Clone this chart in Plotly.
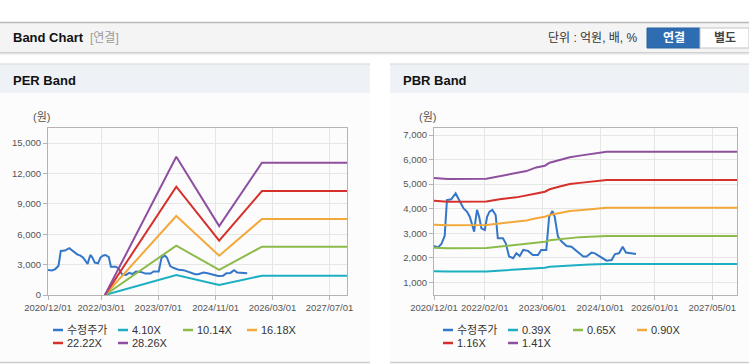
import plotly.graph_objects as go

W, H = 749, 364

# ---------------- data ----------------
price_dates = ["2020-12-01", "2021-01-04", "2021-02-01", "2021-03-01", "2021-03-20", "2021-04-25",
               "2021-06-01", "2021-07-04", "2021-08-07", "2021-09-04", "2021-09-28", "2021-10-19",
               "2021-11-04", "2021-11-16", "2021-11-28", "2021-12-16", "2022-01-04", "2022-02-01",
               "2022-02-21", "2022-03-13", "2022-04-06", "2022-05-04", "2022-05-22", "2022-07-04",
               "2022-07-28", "2022-08-25", "2022-09-28", "2022-10-25", "2022-11-22", "2022-12-22",
               "2023-02-01", "2023-03-13", "2023-04-25", "2023-05-22", "2023-07-04", "2023-07-28",
               "2023-08-25", "2023-09-13", "2023-10-10", "2023-11-10", "2023-12-22", "2024-02-01",
               "2024-03-13", "2024-05-10", "2024-06-07", "2024-07-19", "2024-08-16", "2024-09-28",
               "2024-11-22", "2025-01-04", "2025-02-01", "2025-03-07", "2025-04-07", "2025-05-04",
               "2025-06-22", "2025-07-28"]
price_values = [2480, 2420, 2560, 2890, 4350, 4380,
                4620, 4290, 4010, 3880, 3670, 3330,
                3060, 3540, 3950, 3670, 3200, 3130,
                3670, 3880, 3950, 3740, 2790, 2790,
                2590, 2050, 1980, 2180, 2070, 2320,
                2280, 2110, 2110, 2320, 2320, 3670,
                3900, 3670, 2860, 2660, 2480, 2450,
                2280, 2050, 2050, 2210, 2180, 2050,
                1880, 1910, 2150, 2180, 2450, 2210,
                2180, 2150]

# PER band
per_dates = ["2022-04-01", "2023-12-01", "2024-12-01", "2025-12-01", "2027-11-27"]
per_4_10 = [0, 1970, 990, 1910, 1910]
per_10_14 = [0, 4870, 2470, 4770, 4770]
per_16_18 = [0, 7800, 3880, 7500, 7500]
per_22_22 = [0, 10690, 5360, 10260, 10260]
per_28_26 = [0, 13650, 6800, 13060, 13060]
per_names = ["4.10X", "10.14X", "16.18X", "22.22X", "28.26X"]
per_ticks = ["2020-12-01", "2022-03-01", "2023-07-01", "2024-11-01", "2026-03-01", "2027-07-01"]
per_ticktext = ["2020/12/01", "2022/03/01", "2023/07/01", "2024/11/01", "2026/03/01", "2027/07/01"]

# PBR band
pbr_dates = ["2020-12-01", "2021-03-25", "2022-02-15", "2022-06-07", "2022-10-25", "2023-01-18",
             "2023-04-10", "2023-06-22", "2023-08-01", "2023-10-25", "2024-01-18", "2024-04-12",
             "2024-07-04", "2024-09-28", "2024-11-22", "2027-11-27"]
pbr_0_39 = [1450, 1440, 1445, 1480, 1510, 1535, 1565, 1595, 1630, 1665, 1695, 1710, 1725, 1740, 1745, 1745]
pbr_0_65 = [2410, 2390, 2400, 2460, 2510, 2550, 2600, 2650, 2710, 2760, 2820, 2840, 2860, 2880, 2890, 2890]
pbr_0_90 = [3340, 3320, 3330, 3400, 3470, 3520, 3610, 3670, 3740, 3820, 3900, 3940, 3970, 4010, 4040, 4040]
pbr_1_16 = [4320, 4285, 4290, 4380, 4460, 4530, 4620, 4690, 4790, 4900, 5000, 5050, 5100, 5140, 5170, 5170]
pbr_1_41 = [5250, 5210, 5220, 5330, 5440, 5530, 5680, 5750, 5870, 5980, 6090, 6160, 6210, 6280, 6320, 6320]
pbr_names = ["0.39X", "0.65X", "0.90X", "1.16X", "1.41X"]
pbr_ticks = ["2020-12-01", "2022-02-01", "2023-06-01", "2024-10-01", "2026-01-01", "2027-05-01"]
pbr_ticktext = ["2020/12/01", "2022/02/01", "2023/06/01", "2024/10/01", "2026/01/01", "2027/05/01"]

price_name = "수정주가"
band_colors = ["#1cafc2", "#8cbb4c", "#f3a93a", "#d5302b", "#8e4f9e"]
price_color = "#3476c8"

# ---------------- helpers ----------------
def X(p):
    return p / W

def Y(p):
    return 1 - p / H

FONT = "Liberation Sans, Noto Sans CJK KR, sans-serif"
TICKFONT = "Liberation Sans, Noto Sans CJK KR, sans-serif"

fig = go.Figure()

per_bands = [per_4_10, per_10_14, per_16_18, per_22_22, per_28_26]
pbr_bands = [pbr_0_39, pbr_0_65, pbr_0_90, pbr_1_16, pbr_1_41]

fig.add_trace(go.Scatter(x=price_dates, y=price_values, name=price_name, mode="lines",
                         line=dict(color=price_color, width=2), xaxis="x", yaxis="y"))
for vals, nm, c in zip(per_bands, per_names, band_colors):
    fig.add_trace(go.Scatter(x=per_dates, y=vals, name=nm, mode="lines",
                             line=dict(color=c, width=2), xaxis="x", yaxis="y"))

fig.add_trace(go.Scatter(x=price_dates, y=price_values, name=price_name, mode="lines",
                         line=dict(color=price_color, width=2), xaxis="x2", yaxis="y2"))
for vals, nm, c in zip(pbr_bands, pbr_names, band_colors):
    fig.add_trace(go.Scatter(x=pbr_dates, y=vals, name=nm, mode="lines",
                             line=dict(color=c, width=2), xaxis="x2", yaxis="y2"))

# ---------------- axes ----------------
ydom = [Y(295), Y(128)]
common_x = dict(type="date", showgrid=True, gridcolor="#e6e6e6", gridwidth=1, automargin=False,
                showline=True, linecolor="#b4b4b4", linewidth=1, mirror=True,
                ticks="outside", ticklen=4, tickcolor="#b4b4b4", tickangle=0,
                tickfont=dict(family=TICKFONT, size=9.5, color="#555555"), zeroline=False)
common_y = dict(showgrid=True, gridcolor="#e6e6e6", gridwidth=1, automargin=False,
                showline=True, linecolor="#b4b4b4", linewidth=1, mirror=True,
                ticks="outside", ticklen=4, tickcolor="#b4b4b4", tickformat=",",
                tickfont=dict(family=TICKFONT, size=9.5, color="#555555"), zeroline=False)

fig.update_layout(
    template="none",
    width=W, height=H, margin=dict(l=0, r=0, t=0, b=0, pad=0), autosize=False,
    paper_bgcolor="white", plot_bgcolor="rgba(0,0,0,0)", showlegend=False,
    xaxis=dict(common_x, domain=[X(48), X(347)], range=["2020-12-01", "2027-11-27"],
               tickvals=per_ticks, ticktext=per_ticktext, anchor="y"),
    yaxis=dict(common_y, domain=ydom, range=[0, 16480], dtick=3000, tick0=0, anchor="x"),
    xaxis2=dict(common_x, domain=[X(434), X(737)], range=["2020-12-01", "2027-11-25"],
                tickvals=pbr_ticks, ticktext=pbr_ticktext, anchor="y2"),
    yaxis2=dict(common_y, domain=ydom, range=[483, 7285], dtick=1000, tick0=0, anchor="x2"),
)

# ---------------- decorations ----------------
shapes = []
def rect(x0, y0, x1, y1, fill, line=None, lw=0):
    shapes.append(dict(type="rect", xref="paper", yref="paper", x0=X(x0), x1=X(x1), y0=Y(y1), y1=Y(y0),
                       fillcolor=fill, line=dict(color=line or fill, width=lw), layer="below"))

def hline(x0, x1, y, color, w=1):
    shapes.append(dict(type="line", xref="paper", yref="paper", x0=X(x0), x1=X(x1), y0=Y(y), y1=Y(y),
                       line=dict(color=color, width=w), layer="below"))

# page header band
rect(0, 22, 749, 52, "#f4f4f4")
hline(0, 749, 22.5, "#b9b9b9", 1.5)
hline(0, 749, 52.5, "#cfcfcf", 1)
hline(0, 749, 53.5, "#e4e4e4", 1)
hline(0, 749, 54.5, "#f1f1f1", 1)
# buttons
rect(647, 28, 700, 48, "#2f6db2", "#2a62a3", 1)
rect(700, 28, 749, 48, "#ffffff", "#c4c4c4", 1)

# panels
for (a, b) in [(0, 370), (390, 749)]:
    rect(a, 64, b, 93, "#eef2f7")
    rect(a, 93, b, 363, "#fcfcfc")
    hline(a, b, 64, "#d6d6d6", 1.2)
    hline(a, b, 362.5, "#cccccc", 1.5)

annotations = []

def legend_items(items, x_starts, y_rows):
    pos = [(x, y) for y, xs in zip(y_rows, x_starts) for x in xs]
    for (name, color), (lx, ly) in zip(items, pos):
        shapes.append(dict(type="line", xref="paper", yref="paper", x0=X(lx), x1=X(lx + 10),
                           y0=Y(ly), y1=Y(ly), line=dict(color=color, width=2.5)))
        annotations.append(dict(xref="paper", yref="paper", x=X(lx + 12), y=Y(ly), text=name,
                                showarrow=False, xanchor="left", yanchor="middle",
                                font=dict(family=FONT, size=11, color="#333333")))

left_items = [(price_name, price_color)] + list(zip(per_names, band_colors))
right_items = [(price_name, price_color)] + list(zip(pbr_names, band_colors))
legend_items(left_items, [[53, 118, 183, 247], [53, 118]], [330, 343])
legend_items(right_items, [[443, 508, 573, 637], [443, 508]], [330, 343])

def text(x, y, s, size=12, color="#222", bold=False, anchor="left", family=FONT):
    annotations.append(dict(xref="paper", yref="paper", x=X(x), y=Y(y),
                            text=f"<b>{s}</b>" if bold else s, showarrow=False,
                            xanchor=anchor, yanchor="middle",
                            font=dict(family=family, size=size, color=color)))

text(11, 38, "Band Chart", 13, "#111111", True)
text(88, 38, "[연결]", 12, "#9a9a9a")
text(640, 38, "단위 : 억원, 배, %", 12, "#333333", anchor="right")
text(673.5, 38, "연결", 12, "#ffffff", True, anchor="center")
text(724.5, 38, "별도", 12, "#444444", True, anchor="center")
text(11, 80, "PER Band", 13, "#111111", True)
text(401, 80, "PBR Band", 13, "#111111", True)
text(31, 117, "(원)", 11, "#555555")
text(417, 117, "(원)", 11, "#555555")

fig.update_layout(shapes=shapes, annotations=annotations)
fig.write_html("out.html", config={"displayModeBar": False},
               post_script="document.body.style.margin='0';document.body.style.overflow='hidden';")
